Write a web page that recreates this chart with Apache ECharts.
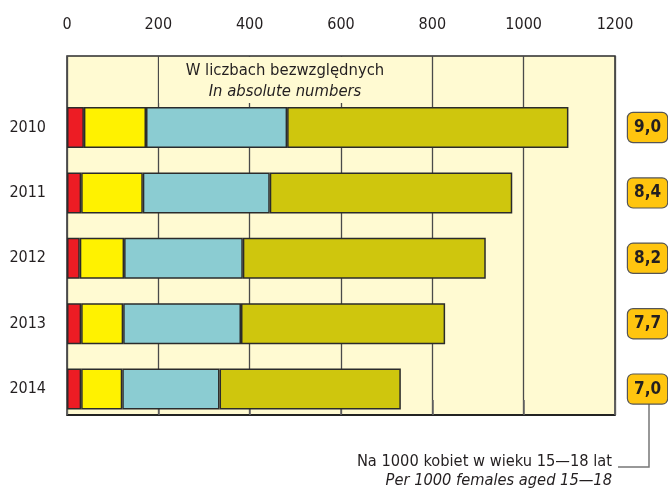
<!DOCTYPE html>
<html>
<head>
<meta charset="utf-8">
<script src="https://cdn.jsdelivr.net/npm/echarts@6/dist/echarts.min.js"></script>
<style>
  html, body { margin: 0; padding: 0; background: #fff; }
  #chart { width: 668px; height: 490px; }
</style>
</head>
<body>
<div id="chart"></div>
<script>
(function() {
  var font = '"Liberation Sans Narrow", "DejaVu Sans Condensed", "Liberation Sans", sans-serif';
  var ink = '#231f20';
  var cream = '#fffad2';
  var edge = '#2b2b2b';

  var years = ['2010', '2011', '2012', '2013', '2014'];
  var redVals = [37, 31, 28, 31, 31];
  var yellowVals = [136, 135, 97, 92, 90];
  var tealVals = [309, 278, 260, 258, 213];
  var oliveVals = [616, 531, 532, 447, 397];
  var rates = [9.0, 8.4, 8.2, 7.7, 7.0];
  var xTicks = [0, 200, 400, 600, 800, 1000, 1200];

  function seg(name, data, color) {
    return {
      name: name,
      type: 'bar',
      stack: 'total',
      xAxisIndex: 1,
      yAxisIndex: 1,
      barWidth: 41,
      data: data,
      itemStyle: { color: color, borderColor: edge, borderWidth: 1.5 }
    };
  }

  var chart = echarts.init(document.getElementById('chart'), null, { renderer: 'canvas' });
  chart.setOption({
    animation: false,
    textStyle: { fontFamily: font },
    grid: [
      { left: 67, right: 53, top: 56, bottom: 75, show: true, backgroundColor: cream,
        borderColor: edge, borderWidth: 1.5, outerBoundsMode: 'none' },
      { left: 67, right: 53, top: 94.8, height: 327, outerBoundsMode: 'none' }
    ],
    xAxis: [
      {
        gridIndex: 0,
        type: 'value',
        position: 'top',
        min: xTicks[0],
        max: xTicks[xTicks.length - 1],
        interval: xTicks[1] - xTicks[0],
        axisLine: { show: true, lineStyle: { color: '#111', width: 1.5 } },
        axisTick: { show: true, length: 15, lineStyle: { color: '#666', width: 1.5 } },
        axisLabel: { color: ink, fontSize: 16, margin: 23, fontFamily: font,
          formatter: function(v) { return String(v); } },
        splitLine: { show: true, lineStyle: { color: '#4a4a4a', width: 1.3 } }
      },
      {
        gridIndex: 1,
        type: 'value',
        min: xTicks[0],
        max: xTicks[xTicks.length - 1],
        show: false
      }
    ],
    yAxis: [
      { gridIndex: 0, type: 'value', show: false },
      {
        gridIndex: 1,
        type: 'category',
        inverse: true,
        data: years,
        axisLine: { show: false },
        axisTick: { show: false },
        axisLabel: { color: ink, fontSize: 16, margin: 21, fontFamily: font }
      },
      {
        gridIndex: 1,
        type: 'category',
        inverse: true,
        position: 'right',
        data: years,
        axisLine: { show: false },
        axisTick: { show: false },
        axisLabel: {
          margin: 13,
          fontSize: 17,
          fontWeight: 'bold',
          color: ink,
          fontFamily: font,
          backgroundColor: '#ffc50f',
          borderColor: '#555',
          borderWidth: 1.2,
          borderRadius: 5,
          padding: [7, 6, 5, 6],
          formatter: function(v, i) { return rates[i].toFixed(1).replace('.', ','); }
        }
      }
    ],
    series: [
      seg('a', redVals, '#ed1c24'),
      seg('b', yellowVals, '#fff200'),
      seg('c', tealVals, '#8bccd2'),
      seg('d', oliveVals, '#cfc60d')
    ],
    graphic: [
      {
        type: 'rect',
        shape: { x: 159, y: 57, width: 242, height: 46 },
        style: { fill: cream },
        z: 5
      },
      {
        type: 'text',
        x: 285,
        y: 71,
        z: 6,
        style: { text: 'W liczbach bezwzględnych', font: '16.5px ' + font, fill: ink,
          textAlign: 'center', textVerticalAlign: 'middle' }
      },
      {
        type: 'text',
        x: 285,
        y: 92,
        z: 6,
        style: { text: 'In absolute numbers', font: 'italic 16.5px ' + font, fill: ink,
          textAlign: 'center', textVerticalAlign: 'middle' }
      },
      {
        type: 'polyline',
        shape: { points: [[649, 403], [649, 467], [618, 467]] },
        style: { stroke: '#777', lineWidth: 1.5, fill: null }
      },
      {
        type: 'text',
        x: 612,
        y: 462,
        style: { text: 'Na 1000 kobiet w wieku 15\u201418 lat', font: '16.3px ' + font, fill: ink,
          textAlign: 'right', textVerticalAlign: 'middle' }
      },
      {
        type: 'text',
        x: 612,
        y: 481,
        style: { text: 'Per 1000 females aged 15\u201418', font: 'italic 16.3px ' + font, fill: ink,
          textAlign: 'right', textVerticalAlign: 'middle' }
      }
    ]
  });
})();
</script>
</body>
</html>
